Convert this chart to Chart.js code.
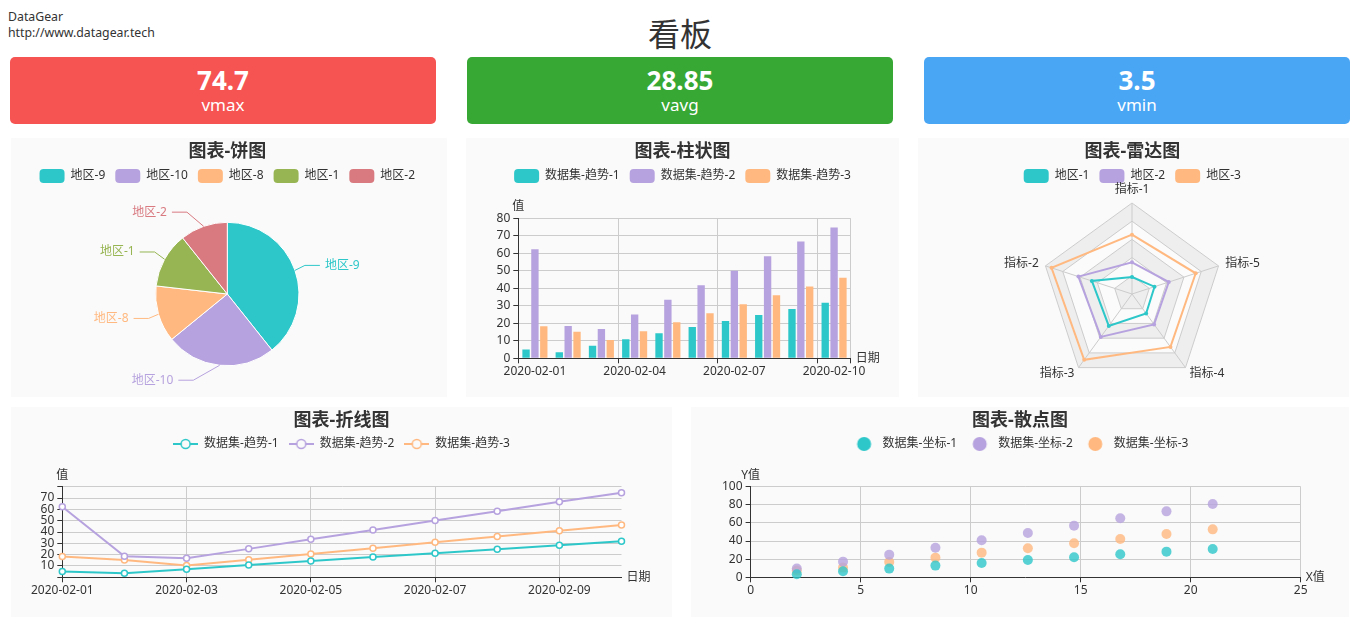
<!DOCTYPE html>
<html>
<head>
<meta charset="utf-8">
<script src="https://cdn.jsdelivr.net/npm/chart.js@4.4.1/dist/chart.umd.min.js"></script>
<style>
html,body{margin:0;padding:0;background:#fff;}
body{width:1360px;height:634px;position:relative;overflow:hidden;font-family:"Noto Sans","Noto Sans CJK SC",sans-serif;color:#333;}
#brand{position:absolute;left:8px;top:9px;font-size:12.3px;line-height:16px;}
#bigtitle{position:absolute;left:0;width:1360px;top:10px;text-align:center;font-size:32px;line-height:44px;font-family:"Noto Sans CJK SC",sans-serif;color:#333;}
.kpi{position:absolute;top:57px;height:67px;width:426px;border-radius:5px;color:#fff;text-align:center;}
.kpi .v{position:absolute;left:0;right:0;top:7px;font-size:26px;font-weight:bold;line-height:32px;}
.kpi .n{position:absolute;left:0;right:0;top:37px;font-size:17px;line-height:22px;}
.panel{position:absolute;background:#fafafa;}
.panel canvas{display:block;}
</style>
</head>
<body>
<div id="brand">DataGear<br>http://www.datagear.tech</div>
<div id="bigtitle">看板</div>
<div id="kpis"></div>
<div class="panel" style="left:11px;top:138px;width:436px;height:259px"><canvas id="pie" width="436" height="259"></canvas></div>
<div class="panel" style="left:466px;top:138px;width:433px;height:259px"><canvas id="bar" width="433" height="259"></canvas></div>
<div class="panel" style="left:918px;top:138px;width:431px;height:259px"><canvas id="radar" width="431" height="259"></canvas></div>
<div class="panel" style="left:11px;top:407px;width:661px;height:210px"><canvas id="line" width="661" height="210"></canvas></div>
<div class="panel" style="left:691px;top:407px;width:658px;height:210px"><canvas id="scatter" width="658" height="210"></canvas></div>
<script>
// ---------------- data ----------------
const kpiValues = ['74.7', '28.85', '3.5'];
const kpiNames = ['vmax', 'vavg', 'vmin'];

const dates = ['2020-02-01','2020-02-02','2020-02-03','2020-02-04','2020-02-05','2020-02-06','2020-02-07','2020-02-08','2020-02-09','2020-02-10'];
const trendNames = ['数据集-趋势-1', '数据集-趋势-2', '数据集-趋势-3'];
const trend1 = [5.1, 3.5, 7.2, 10.9, 14.3, 17.9, 21.3, 24.8, 28.2, 31.8];
const trend2 = [62.3, 18.5, 16.8, 25.1, 33.5, 41.7, 50.1, 58.3, 66.7, 74.7];
const trend3 = [18.3, 15.2, 10.5, 15.4, 20.6, 25.7, 30.9, 36.0, 41.0, 46.1];
const barYTicks = [0, 80, 10];      // min, max, step
const lineYTicks = [0, 80, 10];

const regionNames = ['地区-9', '地区-10', '地区-8', '地区-1', '地区-2'];
const regionValues = [39.3, 24.8, 12.7, 12.5, 10.7];

const radarIndicators = ['指标-1', '指标-2', '指标-3', '指标-4', '指标-5'];
const radarNames = ['地区-1', '地区-2', '地区-3'];
const radar1 = [18.7, 46.4, 43.4, 26.4, 26.0];
const radar2 = [34.8, 61.9, 58.3, 41.3, 42.5];
const radar3 = [65.2, 93.0, 89.4, 71.9, 73.6];
const radarTicks = [0, 100, 20];

const scatterNames = ['数据集-坐标-1', '数据集-坐标-2', '数据集-坐标-3'];
const scatterX = [2.1, 4.2, 6.3, 8.4, 10.5, 12.6, 14.7, 16.8, 18.9, 21.0];
const coord1 = [3.3, 6.6, 9.6, 12.9, 15.8, 19.1, 22.1, 25.4, 28.3, 31.3];
const coord2 = [9.6, 17.3, 25.0, 32.7, 40.8, 48.9, 57.0, 65.1, 72.8, 80.9];
const coord3 = [7.4, 10.7, 16.9, 21.7, 27.2, 32.0, 37.5, 42.3, 47.8, 52.9];
const scatterXTicks = [0, 25, 5];
const scatterYTicks = [0, 100, 20];

// ---------------- styles ----------------
const C = {cyan:'#2ec7c9', purple:'#b6a2de', orange:'#ffb980', green:'#97b552', red:'#d87a80'};
const kpiColors = ['#f65353', '#38a834', '#49a6f5'];
const kpiLefts = [10, 467, 924];
const FONT = '"Noto Sans", "Noto Sans CJK SC", sans-serif';
const TR = 'rgba(0,0,0,0)';
Chart.defaults.font.family = FONT;
Chart.defaults.font.size = 12;
Chart.defaults.color = '#333';
Chart.defaults.animation = false;

// KPI boxes
const kpis = document.getElementById('kpis');
kpiValues.forEach((v, i) => {
  const d = document.createElement('div');
  d.className = 'kpi';
  d.style.left = kpiLefts[i] + 'px';
  d.style.background = kpiColors[i];
  d.innerHTML = '<div class="v">' + v + '</div><div class="n">' + kpiNames[i] + '</div>';
  kpis.appendChild(d);
});

// ---------------- helpers ----------------
function titleOpt(text, bottom) {
  return {display:true, text:text, color:'#333', font:{size:18, weight:'bold', family:FONT}, padding:{top:3, bottom:bottom}};
}
function gapPlugin(extra) {
  return {id:'legendGap', beforeInit(chart) {
    const lg = chart.legend; if (!lg) return;
    const orig = lg.fit;
    lg.fit = function () { orig.call(this); this.height += extra; };
  }};
}
function boxLegend() {
  return {display:true, position:'top', labels:{boxWidth:25, boxHeight:14, padding:10, useBorderRadius:true, borderRadius:4, color:'#333', font:{size:12},
    generateLabels(chart) {
      const gen = chart.config.type === 'pie' ? Chart.overrides.pie.plugins.legend.labels.generateLabels : Chart.defaults.plugins.legend.labels.generateLabels;
      const items = gen(chart);
      items.forEach(it => { it.lineWidth = 0; });
      return items;
    }}};
}
function iconLegend(icons) {
  return {display:true, position:'top', labels:{usePointStyle:true, pointStyleWidth:25, boxHeight:12, padding:10, color:'#333', font:{size:12},
    generateLabels(chart) {
      const items = Chart.defaults.plugins.legend.labels.generateLabels(chart);
      items.forEach((it, i) => { it.pointStyle = icons[i]; });
      return items;
    }}};
}
function lineIcon(color) {
  const c = document.createElement('canvas'); c.width = 25; c.height = 14;
  const g = c.getContext('2d');
  g.strokeStyle = color; g.lineWidth = 2;
  g.beginPath(); g.moveTo(0, 7); g.lineTo(25, 7); g.stroke();
  g.beginPath(); g.arc(12.5, 7, 4.5, 0, Math.PI * 2); g.fillStyle = '#fafafa'; g.fill();
  g.lineWidth = 1.5; g.stroke();
  return c;
}
function dotIcon(color) {
  const c = document.createElement('canvas'); c.width = 25; c.height = 14;
  const g = c.getContext('2d');
  g.fillStyle = color; g.beginPath(); g.arc(12.5, 7, 7, 0, Math.PI * 2); g.fill();
  return c;
}
function axisNames(xName, yName, yOff) {
  return {id:'axisNames', afterDraw(chart) {
    const {ctx, chartArea:a} = chart;
    ctx.save();
    ctx.font = '12px ' + FONT; ctx.fillStyle = '#333'; ctx.textBaseline = 'middle';
    ctx.textAlign = 'center'; ctx.fillText(yName, a.left, a.top - yOff);
    ctx.textAlign = 'left'; ctx.fillText(xName, a.right + 5, a.bottom);
    ctx.restore();
  }};
}
// invisible right-hand spacer axis (keeps title/legend centred on the panel)
function spacerAxis(w) {
  return {type:'linear', position:'right', display:true, grid:{drawOnChartArea:false, drawTicks:false}, border:{display:false}, ticks:{display:false}, afterFit(s) { s.width = w; }};
}
function alpha(hex, a) {
  const n = parseInt(hex.slice(1), 16);
  return 'rgba(' + (n >> 16) + ',' + ((n >> 8) & 255) + ',' + (n & 255) + ',' + a + ')';
}
const zeroTransparent = c => (c.tick && c.tick.value === 0) ? TR : '#ccc';

// ---------------- pie ----------------
const pieLabels = {id:'pieLabels', afterDatasetsDraw(chart) {
  const ctx = chart.ctx, meta = chart.getDatasetMeta(0), colors = chart.data.datasets[0].backgroundColor;
  const L1 = 15, L2 = 15, GAP = 5;
  const items = meta.data.map((arc, i) => {
    const p = arc.getProps(['x','y','startAngle','endAngle','outerRadius'], true);
    const mid = (p.startAngle + p.endAngle) / 2, c = Math.cos(mid), s = Math.sin(mid), r = p.outerRadius;
    return {i:i, cx:p.x, cy:p.y, r:r, c:c, x0:p.x + c * r, y0:p.y + s * r, dir:c >= 0 ? 1 : -1, y:p.y + s * (r + L1)};
  });
  [1, -1].forEach(dir => {
    const side = items.filter(it => it.dir === dir).sort((a, b) => a.y - b.y);
    const changeX = (list, isDown) => {
      let last = isDown ? Infinity : 0;
      list.forEach(it => {
        const dy = Math.abs(it.y - it.cy), R = it.r + L1 + L2;
        let dx = dy < it.r + L1 ? Math.sqrt(R * R - dy * dy) : Math.abs(it.c) * (it.r + L1) + L2;
        if (isDown && dx >= last) dx = last - 10;
        if (!isDown && dx <= last) dx = last + 10;
        it.x = it.cx + dx * dir; last = dx;
      });
    };
    changeX(side.filter(it => it.y < it.cy), false);
    changeX(side.filter(it => it.y >= it.cy), true);
  });
  ctx.save(); ctx.font = '12px ' + FONT; ctx.textBaseline = 'middle'; ctx.lineWidth = 1;
  items.forEach(it => {
    const p2 = it.x - it.dir * GAP, p1 = p2 - it.dir * L2;
    ctx.strokeStyle = colors[it.i];
    ctx.beginPath(); ctx.moveTo(it.x0, it.y0); ctx.lineTo(p1, it.y); ctx.lineTo(p2, it.y); ctx.stroke();
    ctx.fillStyle = colors[it.i]; ctx.textAlign = it.dir > 0 ? 'left' : 'right';
    ctx.fillText(chart.data.labels[it.i], it.x, it.y);
  });
  ctx.restore();
}};
new Chart(document.getElementById('pie'), {
  type:'pie',
  data:{labels:regionNames, datasets:[{data:regionValues, backgroundColor:[C.cyan, C.purple, C.orange, C.green, C.red], borderColor:'#fff', borderWidth:1, hoverOffset:0, radius:71.7}]},
  options:{responsive:false, devicePixelRatio:1, layout:{padding:{top:0, left:0, right:3.4, bottom:2}},
    plugins:{title:titleOpt('图表-饼图', -3.6), legend:boxLegend(), tooltip:{enabled:false}}},
  plugins:[gapPlugin(0), pieLabels]
});

// ---------------- bar ----------------
new Chart(document.getElementById('bar'), {
  type:'bar',
  data:{labels:dates, datasets:[
    {label:trendNames[0], data:trend1, backgroundColor:C.cyan, borderWidth:0, categoryPercentage:0.8, barPercentage:0.83},
    {label:trendNames[1], data:trend2, backgroundColor:C.purple, borderWidth:0, categoryPercentage:0.8, barPercentage:0.83},
    {label:trendNames[2], data:trend3, backgroundColor:C.orange, borderWidth:0, categoryPercentage:0.8, barPercentage:0.83}]},
  options:{responsive:false, devicePixelRatio:1, layout:{padding:0},
    plugins:{title:titleOpt('图表-柱状图', -3.6), legend:boxLegend(), tooltip:{enabled:false}},
    scales:{
      x:{type:'category', offset:true,
        grid:{offset:true, tickLength:5,
          color:c => (c.index === undefined || (c.index % 3 === 0 && c.index > 0)) ? '#ccc' : TR,
          tickColor:c => (c.index === undefined || c.index % 3 === 0) ? '#333' : TR},
        border:{color:'#333'},
        ticks:{autoSkip:false, maxRotation:0, padding:1, callback(v, i) { return i % 3 === 0 ? this.getLabelForValue(v) : ''; }},
        afterFit(s) { s.height = 38.7; }},
      y:{min:barYTicks[0], max:barYTicks[1], ticks:{count:(barYTicks[1] - barYTicks[0]) / barYTicks[2] + 1, padding:3},
        grid:{color:zeroTransparent, tickColor:'#333', tickLength:5}, border:{color:'#333'},
        afterFit(s) { s.width = 52.3; }},
      yR:spacerAxis(48.3)
    }},
  plugins:[gapPlugin(25.3), axisNames('日期', '值', 12)]
});

// ---------------- radar ----------------
const radarOrder = [0, 4, 3, 2, 1]; // clockwise display order
const radarLabels = radarOrder.map(i => radarIndicators[i]);
const reorder = arr => radarOrder.map(i => arr[i]);
const radarArea = {id:'radarArea', beforeDraw(chart) {
  const s = chart.scales.r, ctx = chart.ctx, n = radarLabels.length;
  const levels = [];
  for (let v = radarTicks[1]; v > radarTicks[0]; v -= radarTicks[2]) levels.push(v);
  ctx.save();
  levels.forEach((v, k) => {
    ctx.beginPath();
    for (let i = 0; i < n; i++) {
      const p = s.getPointPositionForValue(i, v);
      if (i === 0) ctx.moveTo(p.x, p.y); else ctx.lineTo(p.x, p.y);
    }
    ctx.closePath();
    ctx.fillStyle = k % 2 === 0 ? '#eeeeee' : '#fbfbfb';
    ctx.fill();
  });
  ctx.restore();
}, afterDraw(chart) {
  const s = chart.scales.r, ctx = chart.ctx;
  ctx.save(); ctx.font = '12px ' + FONT; ctx.fillStyle = '#333';
  radarLabels.forEach((lab, i) => {
    const p = s.getPointPosition(i, s.drawingArea + 7);
    const dx = p.x - s.xCenter, dy = p.y - s.yCenter;
    ctx.textAlign = Math.abs(dx) < 1 ? 'center' : (dx > 0 ? 'left' : 'right');
    ctx.textBaseline = (Math.abs(dx) < 1 && dy < 0) ? 'bottom' : 'middle';
    ctx.fillText(lab, p.x, p.y);
  });
  ctx.restore();
}};
const radarDs = (name, arr, col) => ({label:name, data:reorder(arr), borderColor:col, backgroundColor:col, fill:false, borderWidth:2, pointRadius:2, pointBackgroundColor:col, pointBorderWidth:0});
new Chart(document.getElementById('radar'), {
  type:'radar',
  data:{labels:radarLabels, datasets:[radarDs(radarNames[0], radar1, C.cyan), radarDs(radarNames[1], radar2, C.purple), radarDs(radarNames[2], radar3, C.orange)]},
  options:{responsive:false, devicePixelRatio:1, layout:{padding:{top:0, left:0, right:2.4, bottom:11.2}},
    plugins:{title:titleOpt('图表-雷达图', -3.6), legend:boxLegend(), tooltip:{enabled:false}},
    scales:{r:{min:radarTicks[0], max:radarTicks[1], ticks:{display:false, stepSize:radarTicks[2]}, grid:{color:'#ccc'}, angleLines:{color:'#ccc'}, pointLabels:{display:false}}}},
  plugins:[gapPlugin(10.3), radarArea]
});

// ---------------- line ----------------
const lineDs = (name, arr, col) => ({label:name, data:arr, borderColor:col, backgroundColor:col, borderWidth:2, tension:0, pointRadius:3, pointBorderWidth:1.5, pointBackgroundColor:'#fff', pointBorderColor:col, clip:false});
new Chart(document.getElementById('line'), {
  type:'line',
  data:{labels:dates, datasets:[lineDs(trendNames[0], trend1, C.cyan), lineDs(trendNames[1], trend2, C.purple), lineDs(trendNames[2], trend3, C.orange)]},
  options:{responsive:false, devicePixelRatio:1, layout:{padding:0},
    plugins:{title:titleOpt('图表-折线图', -3.6), legend:iconLegend([lineIcon(C.cyan), lineIcon(C.purple), lineIcon(C.orange)]), tooltip:{enabled:false}},
    scales:{
      x:{type:'category', offset:false,
        grid:{tickLength:5,
          color:c => (c.index !== undefined && c.index % 2 === 0 && c.index > 0) ? '#ccc' : TR,
          tickColor:c => (c.index !== undefined && c.index % 2 === 0) ? '#333' : TR},
        border:{color:'#333'},
        ticks:{autoSkip:false, maxRotation:0, padding:1, callback(v, i) { return i % 2 === 0 ? this.getLabelForValue(v) : ''; }},
        afterFit(s) { s.height = 39.7; }},
      y:{min:lineYTicks[0], max:lineYTicks[1],
        ticks:{count:(lineYTicks[1] - lineYTicks[0]) / lineYTicks[2] + 1, padding:3, autoSkip:false,
          callback:v => (v === lineYTicks[0] || v === lineYTicks[1]) ? '' : v},
        grid:{color:zeroTransparent, tickColor:'#333', tickLength:5}, border:{color:'#333'},
        afterFit(s) { s.width = 51.3; }},
      yR:spacerAxis(50.5)
    }},
  plugins:[gapPlugin(26.7), axisNames('日期', '值', 11)]
});

// ---------------- scatter ----------------
const scDs = (name, ys, col) => ({label:name, data:scatterX.map((x, i) => ({x:x, y:ys[i]})), backgroundColor:alpha(col, 0.8), borderWidth:0, pointRadius:5, pointHoverRadius:5, clip:false});
new Chart(document.getElementById('scatter'), {
  type:'scatter',
  data:{datasets:[scDs(scatterNames[0], coord1, C.cyan), scDs(scatterNames[1], coord2, C.purple), scDs(scatterNames[2], coord3, C.orange)]},
  options:{responsive:false, devicePixelRatio:1, layout:{padding:0},
    plugins:{title:titleOpt('图表-散点图', -3.6), legend:iconLegend([dotIcon(C.cyan), dotIcon(C.purple), dotIcon(C.orange)]), tooltip:{enabled:false}},
    scales:{
      x:{type:'linear', min:scatterXTicks[0], max:scatterXTicks[1], ticks:{stepSize:scatterXTicks[2], padding:1},
        grid:{color:zeroTransparent, tickColor:'#333', tickLength:5}, border:{color:'#333'},
        afterFit(s) { s.height = 39.7; }},
      y:{min:scatterYTicks[0], max:scatterYTicks[1], ticks:{stepSize:scatterYTicks[2], padding:3},
        grid:{color:zeroTransparent, tickColor:'#333', tickLength:5}, border:{color:'#333'},
        afterFit(s) { s.width = 59.6; }},
      yR:spacerAxis(48.3)
    }},
  plugins:[gapPlugin(26.7), axisNames('X值', 'Y值', 11)]
});
</script>
</body>
</html>
